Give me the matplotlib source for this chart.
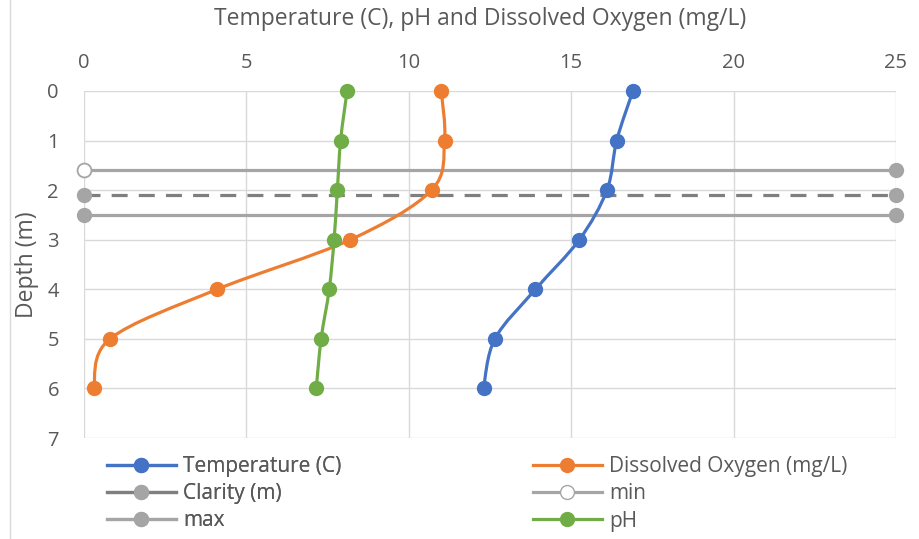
import matplotlib
matplotlib.use("Agg")
import matplotlib.pyplot as plt
from matplotlib.path import Path
from matplotlib.patches import PathPatch
from matplotlib.lines import Line2D
import numpy as np

# profile data
depth = [0, 1, 2, 3, 4, 5, 6]
temperature = [16.9, 16.4, 16.1, 15.25, 13.9, 12.65, 12.3]
dissolved_oxygen = [11.0, 11.1, 10.7, 8.2, 4.1, 0.8, 0.3]
ph = [8.1, 7.9, 7.8, 7.7, 7.55, 7.3, 7.15]

# horizontal reference lines (x span and depth)
ref_x = [0, 25]
clarity = [2.1, 2.1]
min_depth = [1.6, 1.6]
max_depth = [2.5, 2.5]

BLUE = "#4472C4"
ORANGE = "#ED7D31"
GREEN = "#70AD47"
GRAY = "#A5A5A5"
DGRAY = "#7F7F7F"
TXT = "#595959"

plt.rcParams['font.family'] = ['Open Sans', 'DejaVu Sans']


def smooth_path(xs, ys):
    # excel-like smoothed line: catmull-rom segments as cubic beziers
    pts = np.column_stack([xs, ys]).astype(float)
    n = len(pts)
    verts = [pts[0]]
    codes = [Path.MOVETO]
    for i in range(n - 1):
        p0 = pts[max(i - 1, 0)]
        p1 = pts[i]
        p2 = pts[i + 1]
        p3 = pts[min(i + 2, n - 1)]
        c1 = p1 + (p2 - p0) / 6.0
        c2 = p2 - (p3 - p1) / 6.0
        verts += [c1, c2, p2]
        codes += [Path.CURVE4] * 3
    return Path(verts, codes)


fig = plt.figure(figsize=(9.2, 5.39), dpi=100)
ax = fig.add_axes([84 / 920, 1 - 438 / 539, (896 - 84) / 920, (438 - 91) / 539])

# reference lines
ax.plot(ref_x, min_depth, color=GRAY, lw=2.3, zorder=2)
ax.plot(ref_x[1:], min_depth[1:], 'o', color=GRAY, ms=10, zorder=3)
ax.plot(ref_x[:1], min_depth[:1], 'o', mfc='white', mec=GRAY, mew=1.3, ms=10, zorder=3)
ax.plot(ref_x, clarity, color=DGRAY, lw=2.3, ls=(0, (5, 3.5)), marker='o',
        mfc=GRAY, mec=GRAY, ms=10, zorder=3)
ax.plot(ref_x, max_depth, color=GRAY, lw=2.3, marker='o', ms=10, zorder=2)

for vals, col in [(temperature, BLUE), (dissolved_oxygen, ORANGE), (ph, GREEN)]:
    ax.add_patch(PathPatch(smooth_path(vals, depth), fill=False, edgecolor=col,
                           lw=2.3, zorder=4, capstyle='round'))
    ax.plot(vals, depth, 'o', color=col, ms=10, zorder=5)

ax.set_xlim(0, 25)
ax.set_ylim(7, 0)
ax.set_xticks(range(0, 26, 5))
ax.set_yticks(range(0, 8))
ax.xaxis.tick_top()
ax.xaxis.set_label_position('top')
ax.tick_params(length=0, labelsize=14.5, labelcolor=TXT)
ax.tick_params(axis='x', pad=13)
ax.tick_params(axis='y', pad=18)
ax.grid(True, color="#D9D9D9", lw=1)
ax.set_axisbelow(True)
for s in ax.spines.values():
    s.set_visible(False)
ax.set_ylabel("Depth (m)", fontsize=16.5, color=TXT, labelpad=6)
for art in ax.lines:
    art.set_clip_on(False)

fig.text(480 / 920, 1 - 19 / 539, "Temperature (C), pH and Dissolved Oxygen (mg/L)",
         ha='center', va='center', fontsize=16.5, color=TXT)

# left border of the chart area
fig.add_artist(Line2D([10 / 920, 10 / 920], [0, 1], color="#D9D9D9", lw=1))

h_temp = Line2D([], [], color=BLUE, lw=2.3, marker='o', ms=10)
h_clar = Line2D([], [], color=DGRAY, lw=2.3, marker='o', mfc=GRAY, mec=GRAY, ms=10)
h_max = Line2D([], [], color=GRAY, lw=2.3, marker='o', ms=10)
h_do = Line2D([], [], color=ORANGE, lw=2.3, marker='o', ms=10)
h_min = Line2D([], [], color=GRAY, lw=2.3, marker='o', mfc='white', mec=GRAY, ms=10)
h_ph = Line2D([], [], color=GREEN, lw=2.3, marker='o', ms=10)

leg_kw = dict(loc='upper left', frameon=False, fontsize=15, labelcolor=TXT,
              handlelength=3.3, handletextpad=0.35, labelspacing=0.3,
              borderaxespad=0, borderpad=0)
leg1 = fig.legend([h_temp, h_clar, h_max], ["Temperature (C)", "Clarity (m)", "max"],
                  bbox_to_anchor=(107 / 920, 1 - 456 / 539), **leg_kw)
fig.add_artist(leg1)
fig.legend([h_do, h_min, h_ph], ["Dissolved Oxygen (mg/L)", "min", "pH"],
           bbox_to_anchor=(533 / 920, 1 - 456 / 539), **leg_kw)

fig.savefig("out.png", dpi=100)
